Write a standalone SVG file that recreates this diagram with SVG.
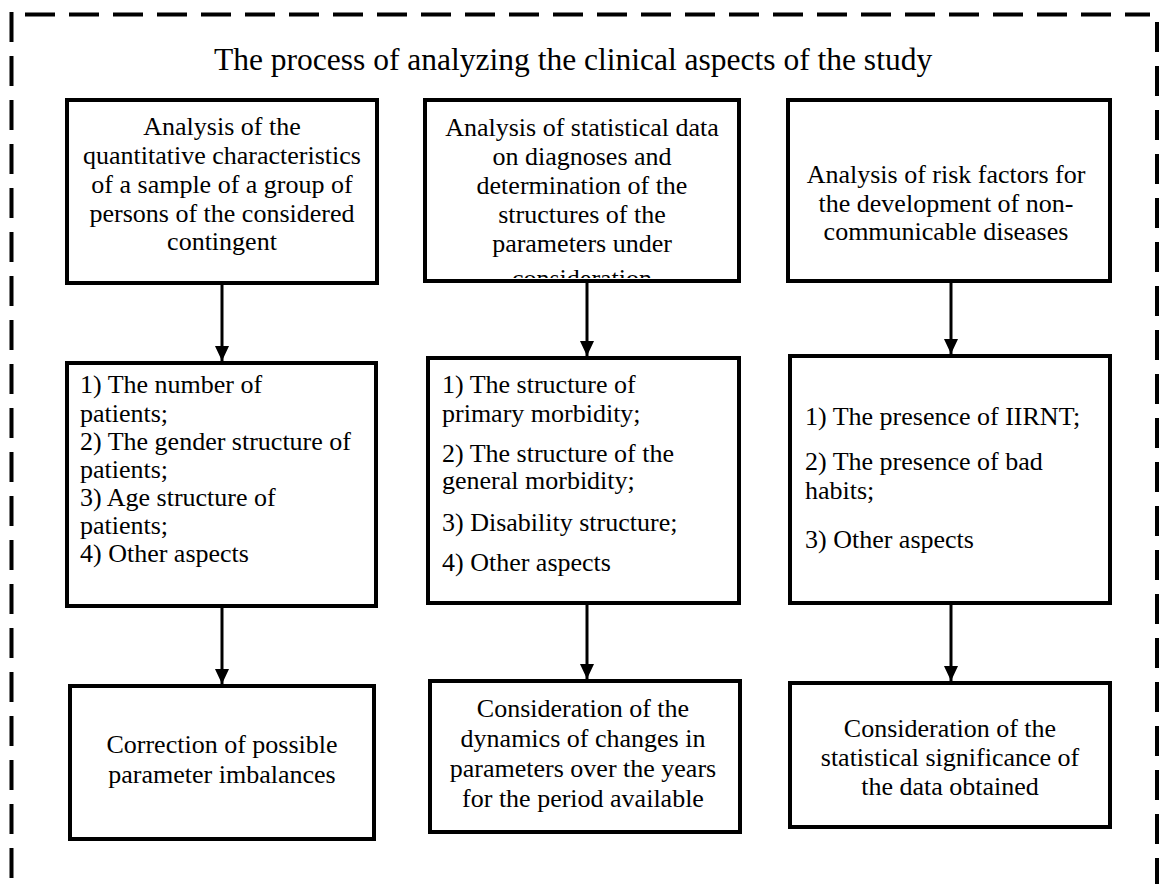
<svg xmlns="http://www.w3.org/2000/svg" width="1160" height="884" viewBox="0 0 1160 884">
  <style>
    .frame { fill: none; stroke: #000; stroke-width: 4; stroke-dasharray: 30 14; }
    .box { fill: #fff; stroke: #000; stroke-width: 4; }
    .txt { font-family: "Liberation Serif", "Times New Roman", serif; font-size: 26px; fill: #000; }
    .mid { text-anchor: middle; }
    .title { font-family: "Liberation Serif", "Times New Roman", serif; font-size: 31.5px; fill: #000; }
    .link { stroke: #000; stroke-width: 3; fill: none; marker-end: url(#arrow); }
  </style>
  <defs>
    <marker id="arrow" viewBox="0 0 15 14" refX="15" refY="7" markerWidth="15" markerHeight="14" markerUnits="userSpaceOnUse" orient="auto">
      <path d="M0,0 L15,7 L0,14 z" fill="#000"/>
    </marker>
    <clipPath id="clipB2">
      <rect x="427" y="102" width="310" height="176"/>
    </clipPath>
  </defs>

  <rect width="1160" height="884" fill="#fff"/>

  <!-- dashed outer frame -->
  <g id="frame">
    <path class="frame" d="M25,14.5 H1150"/>
    <path class="frame" d="M11.5,12 V884"/>
    <path class="frame" d="M1157,22 V884"/>
  </g>

  <g id="title">
    <text class="title" x="214" y="70">The process of analyzing the clinical aspects of the study</text>
  </g>

  <!-- top row -->
  <g id="b1">
    <rect class="box" x="67" y="100" width="310" height="183"/>
    <text class="txt mid" x="222" y="135">Analysis of the</text>
    <text class="txt mid" x="222" y="164">quantitative characteristics</text>
    <text class="txt mid" x="222" y="193">of a sample of a group of</text>
    <text class="txt mid" x="222" y="222">persons of the considered</text>
    <text class="txt mid" x="222" y="250">contingent</text>
  </g>

  <g id="b2">
    <rect class="box" x="425" y="100" width="314" height="181"/>
    <g clip-path="url(#clipB2)">
      <text class="txt mid" x="582" y="136">Analysis of statistical data</text>
      <text class="txt mid" x="582" y="165">on diagnoses and</text>
      <text class="txt mid" x="582" y="194">determination of the</text>
      <text class="txt mid" x="582" y="223">structures of the</text>
      <text class="txt mid" x="582" y="252">parameters under</text>
      <text class="txt mid" x="582" y="287">consideration</text>
    </g>
  </g>

  <g id="b3">
    <rect class="box" x="788" y="100" width="322" height="181"/>
    <text class="txt mid" x="946" y="183">Analysis of risk factors for</text>
    <text class="txt mid" x="946" y="212">the development of non-</text>
    <text class="txt mid" x="946" y="240">communicable diseases</text>
  </g>

  <!-- middle row -->
  <g id="m1">
    <rect class="box" x="67" y="363" width="309" height="243"/>
    <text class="txt" x="80" y="393">1) The number of</text>
    <text class="txt" x="80" y="421.5">patients;</text>
    <text class="txt" x="80" y="450">2) The gender structure of</text>
    <text class="txt" x="80" y="478">patients;</text>
    <text class="txt" x="80" y="506">3) Age structure of</text>
    <text class="txt" x="80" y="534">patients;</text>
    <text class="txt" x="80" y="562">4) Other aspects</text>
  </g>

  <g id="m2">
    <rect class="box" x="428" y="358" width="311" height="245"/>
    <text class="txt" x="442" y="393">1) The structure of</text>
    <text class="txt" x="442" y="422">primary morbidity;</text>
    <text class="txt" x="442" y="462">2) The structure of the</text>
    <text class="txt" x="442" y="489">general morbidity;</text>
    <text class="txt" x="442" y="531">3) Disability structure;</text>
    <text class="txt" x="442" y="571">4) Other aspects</text>
  </g>

  <g id="m3">
    <rect class="box" x="790" y="356" width="320" height="247"/>
    <text class="txt" x="805" y="425">1) The presence of IIRNT;</text>
    <text class="txt" x="805" y="470">2) The presence of bad</text>
    <text class="txt" x="805" y="499">habits;</text>
    <text class="txt" x="805" y="548">3) Other aspects</text>
  </g>

  <!-- bottom row -->
  <g id="l1">
    <rect class="box" x="70" y="686" width="304" height="153"/>
    <text class="txt mid" x="222" y="753">Correction of possible</text>
    <text class="txt mid" x="222" y="783">parameter imbalances</text>
  </g>

  <g id="l2">
    <rect class="box" x="430" y="681" width="310" height="151"/>
    <text class="txt mid" x="583" y="717">Consideration of the</text>
    <text class="txt mid" x="583" y="747">dynamics of changes in</text>
    <text class="txt mid" x="583" y="777">parameters over the years</text>
    <text class="txt mid" x="583" y="807">for the period available</text>
  </g>

  <g id="l3">
    <rect class="box" x="790" y="683" width="320" height="144"/>
    <text class="txt mid" x="950" y="737">Consideration of the</text>
    <text class="txt mid" x="950" y="766">statistical significance of</text>
    <text class="txt mid" x="950" y="795">the data obtained</text>
  </g>

  <!-- connectors -->
  <g id="connectors">
    <line class="link" x1="222" y1="285" x2="222" y2="361"/>
    <line class="link" x1="587" y1="283" x2="587" y2="356"/>
    <line class="link" x1="951" y1="283" x2="951" y2="354"/>
    <line class="link" x1="222" y1="608" x2="222" y2="684"/>
    <line class="link" x1="587" y1="605" x2="587" y2="679"/>
    <line class="link" x1="951" y1="605" x2="951" y2="681"/>
  </g>
</svg>
